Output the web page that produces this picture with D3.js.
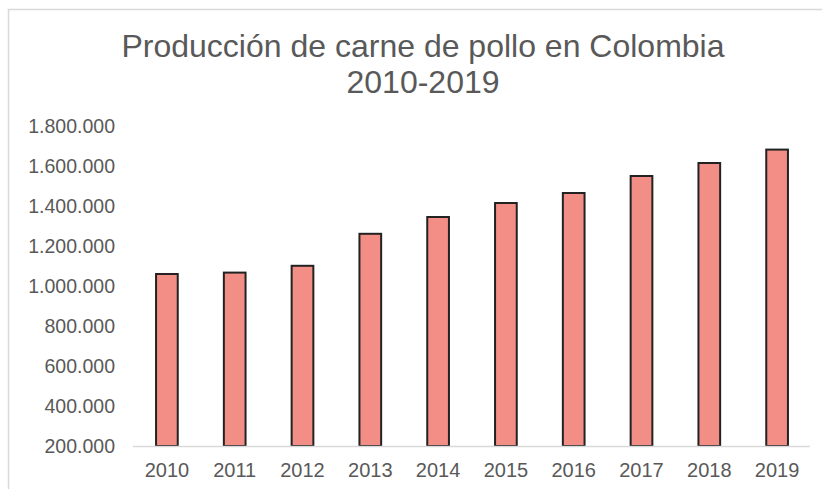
<!DOCTYPE html>
<html>
<head>
<meta charset="utf-8">
<script src="https://cdn.jsdelivr.net/npm/d3@7"></script>
<style>
  body { margin: 0; background: #fff; }
  text { font-family: 'Liberation Sans', Arial, sans-serif; fill: #595959; }
</style>
</head>
<body>
<div class="chart"></div>
<script>
const years = ['2010', '2011', '2012', '2013', '2014', '2015', '2016', '2017', '2018', '2019'];
const production = [1060000, 1067000, 1101000, 1261000, 1345000, 1415000, 1465000, 1550000, 1615000, 1682000];
const yTicks = [200000, 400000, 600000, 800000, 1000000, 1200000, 1400000, 1600000, 1800000];
const titleLines = ['Producción de carne de pollo en Colombia', '2010-2019'];

const width = 822;
const height = 489;

const data = years.map((y, i) => ({ year: y, value: production[i] }));

const svg = d3
  .select('.chart')
  .append('svg')
  .attr('width', width)
  .attr('height', height);

// chart frame (left + top edge visible)
svg.append('path')
  .attr('d', 'M8.5,489 V9.5 H822')
  .attr('fill', 'none')
  .attr('stroke', '#d9d9d9')
  .attr('stroke-width', 1.5);

svg.append('text')
  .attr('x', 423)
  .attr('text-anchor', 'middle')
  .style('font-size', '32px')
  .selectAll('tspan')
  .data(titleLines)
  .enter()
  .append('tspan')
  .attr('x', 423)
  .attr('y', (d, i) => 57 + i * 36)
  .text(d => d);

const x = d3
  .scaleBand()
  .domain(years)
  .range([133, 811])
  .paddingInner(0.68)
  .paddingOuter(0.34);

const y = d3
  .scaleLinear()
  .domain([200000, 1800000])
  .range([446, 126]);

const fmt = d3.formatLocale({ decimal: ',', thousands: '.', grouping: [3], currency: ['', ''] }).format(',d');

// y axis labels only
const yAxis = d3.axisLeft(y).tickValues(yTicks).tickFormat(fmt).tickSize(0).tickPadding(0);
const yg = svg.append('g').attr('transform', 'translate(115,0)').call(yAxis);
yg.select('.domain').remove();
yg.selectAll('text')
  .attr('dy', '0.35em')
  .style('font-size', '19.5px')
  .style('font-family', "'Liberation Sans', Arial, sans-serif")
  .attr('fill', '#595959');

svg.selectAll('.bar')
  .data(data)
  .enter()
  .append('rect')
  .attr('class', 'bar')
  .attr('x', d => x(d.year))
  .attr('y', d => y(d.value))
  .attr('width', x.bandwidth())
  .attr('height', d => y(200000) - y(d.value))
  .attr('fill', '#f28e86')
  .attr('stroke', '#222')
  .attr('stroke-width', 2);

const xAxis = d3.axisBottom(x).tickSize(0).tickPadding(0);
const xg = svg.append('g').attr('transform', 'translate(0,446)').call(xAxis);
xg.select('.domain')
  .attr('stroke', '#d9d9d9')
  .attr('stroke-width', 1.5)
  .attr('d', 'M133,0.5H810');
xg.selectAll('text')
  .attr('y', 30.5)
  .attr('dy', null)
  .style('font-size', '20px')
  .style('font-family', "'Liberation Sans', Arial, sans-serif")
  .attr('fill', '#595959');
</script>
</body>
</html>
